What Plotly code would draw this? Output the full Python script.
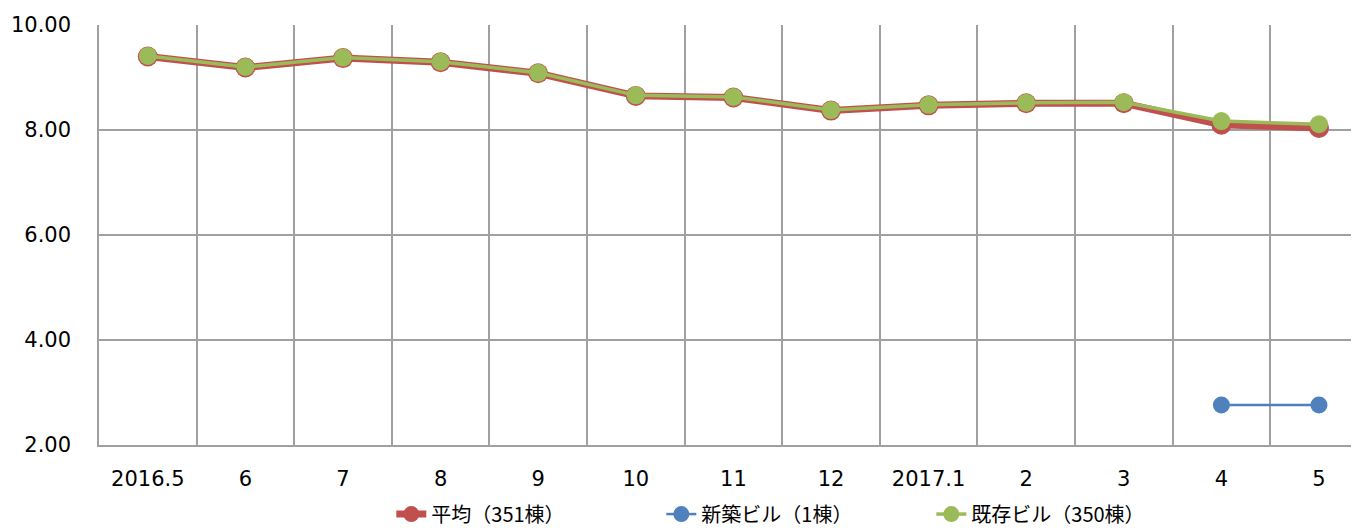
import plotly.graph_objects as go

categories = ["2016.5", "6", "7", "8", "9", "10", "11", "12", "2017.1", "2", "3", "4", "5"]
avg_all = [9.40, 9.19, 9.37, 9.29, 9.08, 8.65, 8.62, 8.37, 8.47, 8.51, 8.51, 8.10, 8.04]
new_bldg = [None, None, None, None, None, None, None, None, None, None, None, 2.76, 2.76]
existing = [9.41, 9.20, 9.38, 9.30, 9.09, 8.66, 8.63, 8.38, 8.48, 8.52, 8.53, 8.17, 8.11]
y_ticks = [2, 4, 6, 8, 10]

RED = "#C0504D"
BLUE = "#4F81BD"
GREEN = "#9BBB59"
GRID = "#A0A0A0"

fig = go.Figure()
fig.add_trace(go.Scatter(
    x=categories, y=avg_all, name="平均（351棟）", mode="lines+markers",
    line=dict(color=RED, width=7), marker=dict(color=RED, size=20)))
fig.add_trace(go.Scatter(
    x=categories, y=new_bldg, name="新築ビル（1棟）", mode="lines+markers",
    line=dict(color=BLUE, width=2.5), marker=dict(color=BLUE, size=17)))
fig.add_trace(go.Scatter(
    x=categories, y=existing, name="既存ビル（350棟）", mode="lines+markers",
    line=dict(color=GREEN, width=3.5), marker=dict(color=GREEN, size=18)))

fig.update_layout(
    width=1351, height=523,
    margin=dict(l=91, r=0, t=17, b=86, autoexpand=False),
    plot_bgcolor="white", paper_bgcolor="white",
    font=dict(family="DejaVu Sans, Noto Sans CJK JP", size=21, color="#000000"),
    showlegend=True,
    legend=dict(
        orientation="h", x=0.232, xanchor="left", y=-0.118, yanchor="top",
        font=dict(family="Noto Sans CJK JP", size=20, color="#000000"),
        entrywidth=225, entrywidthmode="pixels", traceorder="normal",
        itemclick=False),
)
fig.update_xaxes(
    type="category", categoryorder="array", categoryarray=categories,
    range=[-0.5, 12.41], tickson="boundaries", automargin=False,
    showgrid=True, gridcolor=GRID, gridwidth=1.5,
    showline=True, linecolor=GRID, linewidth=1.5,
    ticks="", ticklabelstandoff=14, zeroline=False)
fig.update_yaxes(
    range=[2, 10], tickvals=y_ticks, tickformat=".2f", automargin=False,
    showgrid=True, gridcolor=GRID, gridwidth=1.5,
    showline=True, linecolor=GRID, linewidth=1.5,
    ticks="", ticklabelstandoff=22, zeroline=False)

fig.write_html("out.html")
